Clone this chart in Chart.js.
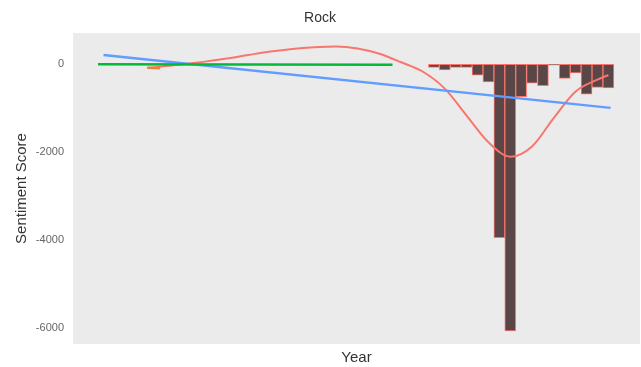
<!DOCTYPE html>
<html>
<head>
<meta charset="utf-8">
<script src="https://cdn.jsdelivr.net/npm/chart.js@4.4.1/dist/chart.umd.min.js"></script>
<style>
  html, body { margin: 0; padding: 0; background: #ffffff; }
  #chart { display: block; }
</style>
</head>
<body>
<canvas id="chart" width="641" height="367"></canvas>
<script>
// Yearly sentiment (bars)
const barYears = [1990, 1991, 1992, 1993, 1994, 1995, 1996, 1997, 1998, 1999, 2000, 2001, 2002, 2003, 2004, 2005, 2006];
const barScores = [-70, -130, -70, -70, -250, -400, -3950, -6070, -740, -430, -490, -20, -320, -195, -680, -525, -540];

// Smoothed trend (red curve)
const smoothYears = [1963.8, 1965, 1967, 1969, 1971, 1973, 1975, 1977, 1979, 1981, 1983, 1985, 1987, 1989, 1991, 1993, 1995, 1997, 1999, 2001, 2003, 2005, 2006];
const smoothScores = [-85, -50, 0, 60, 130, 212, 290, 350, 388, 405, 360, 240, 45, -170, -555, -1170, -1775, -2105, -1870, -1220, -620, -350, -245];

// Linear fit (blue)
const fitYears = [1959.7, 2006.2];
const fitScores = [211, -993];

// Flat series (green)
const flatYears = [1959.2, 1986.2];
const flatScores = [0, -10];

// Short segment (orange)
const shortYears = [1963.7, 1964.9];
const shortScores = [-80, -90];

const yTicks = [0, -2000, -4000, -6000];

function points(xs, ys) {
  return xs.map((x, i) => ({ x: x, y: ys[i] }));
}

// grey panel behind the plot
const panelBg = {
  id: 'panelBg',
  beforeDraw(chart) {
    const { ctx, chartArea } = chart;
    ctx.save();
    ctx.fillStyle = '#ffffff';
    ctx.fillRect(0, 0, chart.width, chart.height);
    ctx.fillStyle = '#EBEBEB';
    ctx.fillRect(chartArea.left, chartArea.top, chartArea.right - chartArea.left, chartArea.bottom - chartArea.top);
    ctx.restore();
  }
};

const font = 'Liberation Sans, Arial, sans-serif';

new Chart(document.getElementById('chart'), {
  type: 'bar',
  data: {
    datasets: [
      {
        type: 'bar',
        data: points(barYears, barScores),
        backgroundColor: '#5a4646',
        borderColor: '#F8766D',
        borderWidth: 1,
        borderSkipped: false,
        barPercentage: 1,
        categoryPercentage: 1,
        order: 5
      },
      {
        type: 'line',
        data: points(smoothYears, smoothScores),
        borderColor: '#F8766D',
        borderWidth: 2,
        pointRadius: 0,
        cubicInterpolationMode: 'monotone',
        order: 4
      },
      {
        type: 'line',
        data: points(fitYears, fitScores),
        borderColor: '#619CFF',
        borderWidth: 2.5,
        pointRadius: 0,
        order: 3
      },
      {
        type: 'line',
        data: points(shortYears, shortScores),
        borderColor: '#E0873A',
        borderWidth: 2.5,
        pointRadius: 0,
        order: 2
      },
      {
        type: 'line',
        data: points(flatYears, flatScores),
        borderColor: '#00BA38',
        borderWidth: 2.5,
        pointRadius: 0,
        order: 1
      }
    ]
  },
  options: {
    responsive: false,
    animation: false,
    layout: { padding: { left: 0, right: 1, top: 0, bottom: 0 } },
    plugins: {
      legend: { display: false },
      tooltip: { enabled: false },
      title: {
        display: true,
        text: 'Rock',
        color: '#333333',
        font: { family: font, size: 14, weight: 'normal' },
        padding: { top: 10, bottom: 6.2 }
      }
    },
    scales: {
      x: {
        type: 'linear',
        offset: false,
        min: 1956.9,
        max: 2008.9,
        grid: { display: false, drawTicks: false },
        border: { display: false },
        ticks: { display: false },
        title: {
          display: true,
          text: 'Year',
          color: '#333333',
          font: { family: font, size: 15 },
          padding: { top: 0, bottom: 0 }
        },
        afterFit(scale) { scale.height = 23; }
      },
      y: {
        min: -6370,
        max: 712,
        grid: { display: false, drawTicks: false },
        border: { display: false },
        ticks: {
          color: '#666666',
          font: { family: font, size: 11 },
          padding: 9,
          callback: (v) => String(v)
        },
        afterBuildTicks(scale) {
          scale.ticks = yTicks.map(v => ({ value: v }));
        },
        title: {
          display: true,
          text: 'Sentiment Score',
          color: '#333333',
          font: { family: font, size: 15 },
          padding: { top: 13, bottom: 0 }
        },
        afterFit(scale) { scale.width = 73; }
      }
    }
  },
  plugins: [panelBg]
});
</script>
</body>
</html>
